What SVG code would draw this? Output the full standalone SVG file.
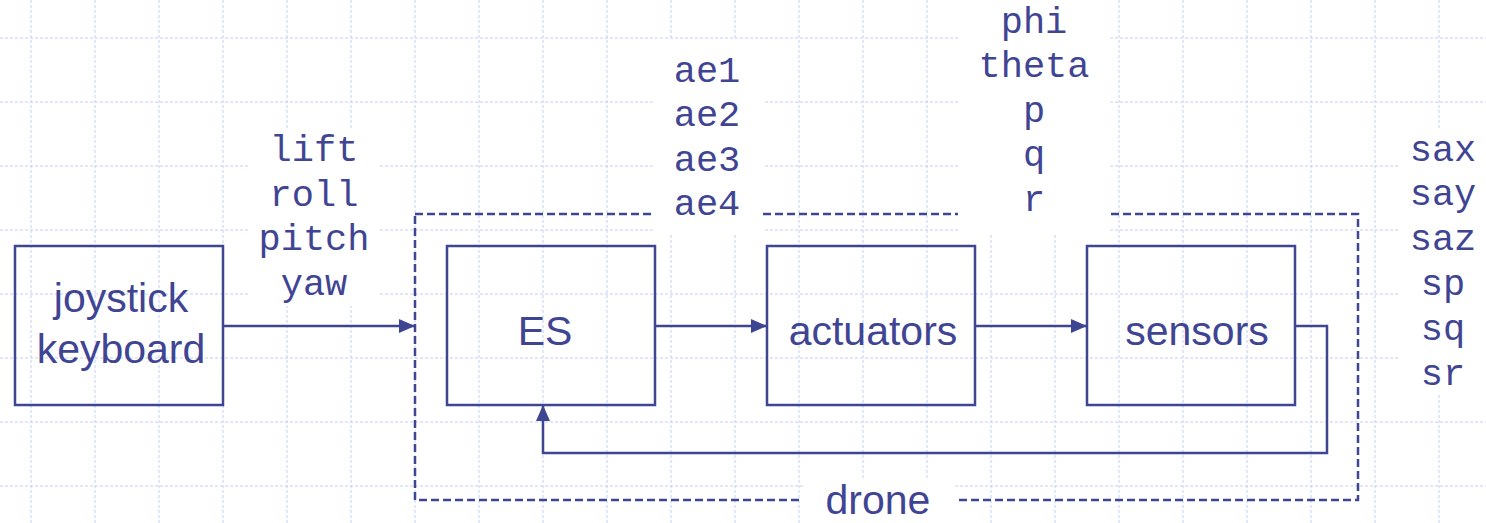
<svg xmlns="http://www.w3.org/2000/svg" width="1486" height="523" viewBox="0 0 1486 523">
  <style>
    .grid { stroke: #c3d0f4; stroke-width: 1; stroke-dasharray: 3 2; fill: none; }
    .box { fill: none; stroke: #3f4593; stroke-width: 2.5; }
    .frame { fill: none; stroke: #3f4593; stroke-width: 2.5; stroke-dasharray: 8 4; }
    .wire { fill: none; stroke: #3f4593; stroke-width: 2.5; }
    .blank { fill: #ffffff; stroke: none; }
    .sans { font-family: "Liberation Sans", Arial, sans-serif; font-size: 41px; fill: #3f4593; text-anchor: middle; }
    .mono { font-family: "Liberation Mono", "Courier New", monospace; font-size: 37px; fill: #3f4593; text-anchor: middle; }
  </style>
  <defs>
    <marker id="arrow" viewBox="0 0 16 14" refX="16" refY="7" markerWidth="16" markerHeight="14" markerUnits="userSpaceOnUse" orient="auto">
      <path d="M0,0 L16,7 L0,14 Z" fill="#3f4593"/>
    </marker>
  </defs>

  <rect width="1486" height="523" fill="#ffffff"/>

  <!-- background grid -->
  <path class="grid" d="M31,0V523 M95,0V523 M159,0V523 M223,0V523 M287,0V523 M351,0V523 M415,0V523 M479,0V523 M543,0V523 M607,0V523 M671,0V523 M735,0V523 M799,0V523 M863,0V523 M927,0V523 M991,0V523 M1055,0V523 M1119,0V523 M1183,0V523 M1247,0V523 M1311,0V523 M1375,0V523 M1439,0V523 M0,38H1486 M0,102H1486 M0,166H1486 M0,230H1486 M0,294H1486 M0,358H1486 M0,422H1486 M0,486H1486"/>

  <!-- drone boundary -->
  <rect class="frame" x="415" y="214" width="943" height="286"/>

  <!-- label backgrounds -->
  <rect class="blank" x="250" y="128" width="128" height="178"/>
  <rect class="blank" x="655" y="40" width="108" height="193"/>
  <rect class="blank" x="958" y="0" width="152" height="233"/>
  <rect class="blank" x="1400" y="130" width="86" height="265"/>
  <rect class="blank" x="803" y="480" width="152" height="43"/>

  <g id="connectors">
    <line class="wire" x1="223" y1="326" x2="415" y2="326" marker-end="url(#arrow)"/>
    <line class="wire" x1="655" y1="326" x2="767" y2="326" marker-end="url(#arrow)"/>
    <line class="wire" x1="975" y1="326" x2="1087" y2="326" marker-end="url(#arrow)"/>
    <polyline class="wire" points="1295,326 1327,326 1327,453 543,453 543,405" marker-end="url(#arrow)"/>
  </g>

  <g id="joystick">
    <rect class="box" x="15" y="246" width="208" height="159"/>
    <text class="sans" x="121" y="312">joystick</text>
    <text class="sans" x="121" y="363">keyboard</text>
  </g>
  <g id="es">
    <rect class="box" x="447" y="246" width="208" height="159"/>
    <text class="sans" x="545" y="345">ES</text>
  </g>
  <g id="actuators">
    <rect class="box" x="767" y="246" width="208" height="159"/>
    <text class="sans" x="873" y="345">actuators</text>
  </g>
  <g id="sensors">
    <rect class="box" x="1087" y="246" width="208" height="159"/>
    <text class="sans" x="1197" y="345">sensors</text>
  </g>

  <g id="drone-label">
    <text class="sans" x="878" y="514">drone</text>
  </g>

  <g id="inputs">
    <text class="mono" x="314" y="161">lift</text>
    <text class="mono" x="314" y="206">roll</text>
    <text class="mono" x="314" y="250">pitch</text>
    <text class="mono" x="314" y="295">yaw</text>
  </g>
  <g id="actuator-signals">
    <text class="mono" x="707" y="82">ae1</text>
    <text class="mono" x="707" y="126">ae2</text>
    <text class="mono" x="707" y="171">ae3</text>
    <text class="mono" x="707" y="215">ae4</text>
  </g>
  <g id="states">
    <text class="mono" x="1034" y="33">phi</text>
    <text class="mono" x="1034" y="77">theta</text>
    <text class="mono" x="1034" y="122">p</text>
    <text class="mono" x="1034" y="166">q</text>
    <text class="mono" x="1034" y="211">r</text>
  </g>
  <g id="sensor-signals">
    <text class="mono" x="1443" y="161">sax</text>
    <text class="mono" x="1443" y="205">say</text>
    <text class="mono" x="1443" y="250">saz</text>
    <text class="mono" x="1443" y="295">sp</text>
    <text class="mono" x="1443" y="340">sq</text>
    <text class="mono" x="1443" y="385">sr</text>
  </g>
</svg>
